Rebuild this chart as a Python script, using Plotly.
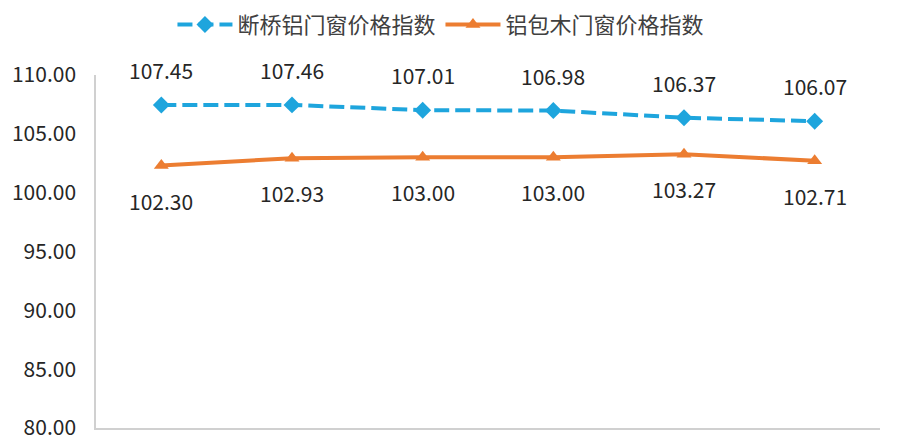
import plotly.graph_objects as go

periods = ["第1期", "第2期", "第3期", "第4期", "第5期", "第6期"]
duanqiao = [107.45, 107.46, 107.01, 106.98, 106.37, 106.07]
lvbaomu = [102.30, 102.93, 103.00, 103.00, 103.27, 102.71]

blue = "#1ea5dd"
orange = "#ec7d31"
txt = "#262626"
font_family = "Noto Sans CJK SC, Open Sans, sans-serif"

fig = go.Figure()
fig.add_trace(go.Scatter(x=periods, y=duanqiao, name="断桥铝门窗价格指数", mode="lines+markers",
                         line=dict(color=blue, width=4, dash="15px,6px"),
                         marker=dict(symbol="diamond", size=13, color=blue)))
fig.add_trace(go.Scatter(x=periods, y=lvbaomu, name="铝包木门窗价格指数", mode="lines+markers",
                         line=dict(color=orange, width=4),
                         marker=dict(symbol="triangle-up", size=13, color=orange)))

# data labels
for x, y in zip(periods, duanqiao):
    fig.add_annotation(x=x, y=y, text=f"{y:.2f}", showarrow=False, yshift=35,
                       font=dict(size=21, color=txt))
for x, y in zip(periods, lvbaomu):
    fig.add_annotation(x=x, y=y, text=f"{y:.2f}", showarrow=False, yshift=-35,
                       font=dict(size=21, color=txt))

# page body adds ~8px offset, margins compensate
fig.update_layout(
    width=903, height=440,
    margin=dict(l=88, r=31, t=67, b=20, autoexpand=False),
    plot_bgcolor="white", paper_bgcolor="white",
    font=dict(family=font_family, size=20, color=txt),
    showlegend=True,
    legend=dict(orientation="h", x=0.44, xanchor="center", y=0.962, yref="container",
                yanchor="middle", font=dict(size=22, color="#404040"),
                itemwidth=55, tracegroupgap=0),
    xaxis=dict(range=[-0.5, 5.5], showticklabels=False, showgrid=False, showline=True,
               linecolor="#d0d0d0", linewidth=1.5, zeroline=False, automargin=False),
    yaxis=dict(range=[80, 110], dtick=5, tickformat=".2f", showgrid=False,
               showline=True, linecolor="#d0d0d0", linewidth=1.5, zeroline=False,
               ticks="outside", ticklen=14, tickcolor="white", automargin=False,
               tickfont=dict(size=21, color=txt)),
)

fig.write_html("out.html")
